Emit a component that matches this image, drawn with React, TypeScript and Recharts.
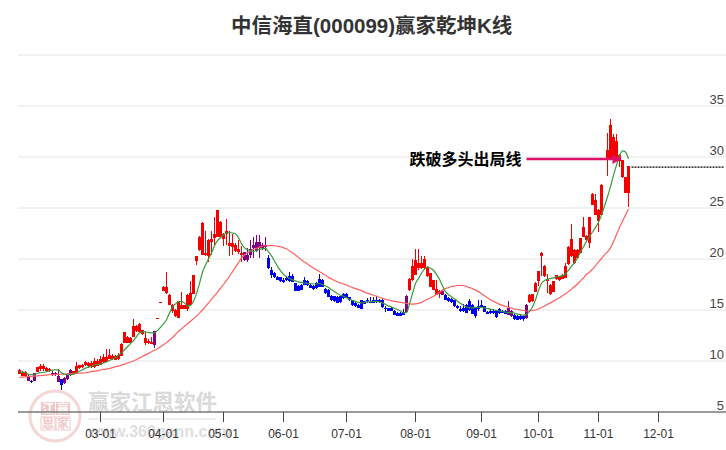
import React from "react";
import { ComposedChart, Bar, Line, XAxis, YAxis, CartesianGrid } from "recharts";

// Candle rows: [body top, body bottom, high, low]
const candlesA = [
  [9.1,8.75,9.2,8.7],[8.9,8.55,9.0,8.5],[8.9,8.5,9.0,8.45],[8.55,8.0,8.7,8.0],[8.05,7.95,8.15,7.8],[8.8,8.0,8.85,8.0],[9.4,8.95,9.45,8.95],[9.55,9.2,9.7,9.0],[9.5,9.2,9.7,9.0],[9.3,9.0,9.4,8.95],
  [9.2,9.0,9.3,8.95],[8.8,8.65,9.0,8.55],[8.8,8.65,8.9,8.55],[8.55,7.9,9.2,7.9],[8.2,7.6,8.25,7.2],[8.35,7.8,8.4,7.75],[8.65,8.25,8.8,8.15],[9.1,8.65,9.2,8.5],[9.0,8.7,9.05,8.6],[9.55,8.8,9.9,8.75],
  [9.6,9.3,9.65,9.25],[9.6,9.4,9.7,9.3],[9.95,9.6,10.0,9.5],[9.85,9.55,9.9,9.3],[9.8,9.4,10.0,9.3],[10.0,9.4,10.3,9.3],[10.0,9.55,10.2,9.5],
];
const candlesB = [
  [10.15,9.65,10.5,9.6],[10.4,9.9,10.7,9.85],[10.4,9.95,11.15,9.9],[10.55,10.2,11.15,10.15],[10.5,10.2,10.7,10.1],[10.5,10.1,10.6,10.05],[10.55,10.15,10.8,10.1],[11.7,10.5,11.75,10.45],[12.8,11.8,12.85,11.75],[12.4,11.8,12.45,11.75],
  [12.3,11.8,12.35,11.75],[13.4,12.4,14.1,12.35],[13.4,12.9,13.5,12.85],[13.65,12.8,13.75,12.75],[13.0,12.6,13.05,12.55],[12.3,11.8,12.8,11.6],[12.0,11.75,12.2,11.7],[11.9,11.7,12.4,11.65],[12.9,11.6,12.95,11.3],[14.25,14.15,14.25,14.15],[15.75,15.65,15.75,15.65],
];
const candlesC = [
  [17.3,16.9,17.35,16.85],[17.3,16.65,18.7,16.6],[16.5,15.5,16.55,15.45],[15.5,14.95,15.55,14.7],[15.0,14.4,15.05,14.35],[15.85,14.2,15.9,14.2],[15.5,15.1,16.8,15.05],[15.45,15.1,15.5,15.05],[16.5,15.1,16.55,14.95],[16.65,15.5,17.8,15.45],
  [18.4,16.6,18.45,16.55],[20.3,19.8,20.3,19.4],[22.2,20.85,22.25,20.8],[23.5,20.4,23.6,20.35],[20.6,20.35,22.7,20.3],[21.9,20.25,21.95,19.7],[22.0,21.7,22.7,20.4],[22.5,22.1,24.1,21.4],[24.8,22.2,24.85,22.15],[23.65,22.2,23.7,22.15],
];
const candlesD = [
  [22.5,22.0,22.55,21.25],[22.7,22.5,23.95,21.4],[21.55,21.25,22.7,20.3],[21.55,21.2,22.5,20.4],[21.4,20.75,21.6,20.7],[21.0,20.7,21.9,20.5],[20.6,20.4,21.25,19.75],[20.65,19.9,20.7,19.85],[20.35,19.9,21.05,19.75],[21.0,20.4,21.9,20.1],
  [21.4,21.1,22.2,20.1],[21.7,20.75,22.4,20.7],[21.7,21.1,22.4,20.1],[21.4,21.1,21.6,20.9],[21.4,21.15,22.2,20.75],[20.1,19.1,20.4,19.05],[18.95,18.45,19.2,18.1],[18.6,18.2,18.7,18.1],[18.2,17.95,18.3,17.9],[18.2,17.8,18.25,17.75],
];
const candlesE = [
  [17.95,17.7,18.1,17.6],[18.1,17.95,18.2,17.85],[18.35,17.8,18.7,17.75],[18.35,17.75,18.5,17.7],[17.6,16.9,17.65,16.85],[17.4,16.9,17.45,16.85],[17.5,17.0,17.55,16.95],[17.95,17.5,18.2,17.45],[17.8,17.5,17.9,17.4],[17.5,17.2,17.6,17.15],
  [17.4,17.05,17.45,17.0],[17.65,17.15,17.7,17.1],[18.05,17.3,18.55,17.25],[17.95,17.3,18.0,17.25],[17.1,16.65,17.2,16.6],[17.0,16.3,17.05,16.25],[16.4,15.95,16.5,15.9],[16.35,15.85,16.4,15.75],[16.25,15.7,16.35,15.65],[16.35,15.75,16.4,15.7],[16.6,16.2,16.65,16.1],
];
const candlesF = [
  [16.6,16.2,16.7,16.15],[16.25,15.95,16.3,15.9],[15.95,15.45,16.0,15.4],[15.7,15.35,15.75,15.3],[15.5,15.2,15.6,15.15],[15.95,15.1,16.0,15.05],[15.85,15.6,15.9,15.55],[15.95,15.85,16.2,15.7],[15.8,15.75,16.3,15.65],[16.0,15.7,16.3,15.65],
  [16.0,15.75,16.4,15.7],[16.0,15.75,16.1,15.7],[16.0,15.25,16.05,15.2],[15.2,15.15,15.4,14.85],[15.15,14.95,15.2,14.9],[15.2,14.95,15.25,14.9],[14.95,14.55,15.0,14.5],[14.75,14.45,14.8,14.4],[14.75,14.45,14.8,14.4],[14.85,14.55,15.05,14.5],
  [16.4,14.8,16.45,14.75],[18.07,16.93,18.1,16.9],[19.35,17.9,20.0,17.85],
];
const candlesG = [
  [19.93,18.46,20.97,18.4],[19.6,19.1,20.97,18.95],[19.6,19.1,20.3,19.05],[20.0,19.1,20.3,19.05],[19.1,18.3,19.3,18.25],[18.6,17.3,18.65,17.25],[17.9,17.0,17.95,16.95],[17.05,16.5,17.9,16.45],[16.9,16.6,16.95,16.2],[16.9,16.5,17.0,16.45],
  [16.5,16.0,16.6,15.95],[16.2,15.85,16.3,15.8],[16.05,15.75,16.15,15.7],[15.95,15.35,16.0,15.3],[15.4,15.15,15.45,15.1],[15.05,14.95,15.4,14.85],[15.2,14.9,15.6,14.85],[15.5,14.75,15.55,14.7],[15.85,15.0,16.05,14.95],[15.5,14.65,15.55,14.6],
  [15.2,14.45,15.25,14.2],[15.35,15.1,16.0,14.9],
];
const candlesH = [
  [15.5,15.2,15.95,15.15],[15.35,14.85,15.4,14.8],[14.85,14.65,14.9,14.6],[14.95,14.7,15.05,14.65],[14.95,14.7,15.1,14.65],[14.95,14.3,15.0,14.25],[15.05,14.7,15.2,14.65],[14.95,14.75,15.0,14.7],[14.95,14.65,15.0,14.6],[15.2,14.55,15.9,14.5],
  [14.95,14.4,15.0,14.35],[14.55,14.1,14.6,14.05],[14.45,14.05,14.5,14.0],[14.45,14.1,14.5,14.05],[14.4,14.1,14.45,13.95],[15.5,14.2,15.55,14.15],[16.5,15.75,16.55,15.7],[16.57,15.85,16.6,15.8],[17.65,16.8,17.7,16.75],
];
const candlesI = [
  [18.8,17.8,18.85,17.4],[20.6,20.3,20.65,18.3],[19.35,18.3,19.4,18.25],[18.0,17.8,18.5,16.7],[17.5,16.6,17.55,16.5],[17.8,16.8,17.85,16.75],[18.4,18.0,18.45,17.9],[18.3,17.9,18.35,17.85],[18.45,18.05,18.5,18.0],[19.3,18.15,19.6,18.1],
  [21.2,19.5,21.25,19.4],[21.95,20.25,23.4,20.2],[20.9,19.6,20.95,19.55],[20.9,20.1,20.95,20.0],[22.06,20.6,22.1,20.55],[23.1,22.2,24.1,22.15],[22.3,21.85,22.35,21.8],[24.1,21.6,24.15,21.1],[26.4,25.3,26.45,25.25],
];
const candlesJ = [
  [25.8,24.35,26.4,24.3],[24.85,23.7,24.9,22.6],[27.3,24.35,27.35,24.3],null,[30.7,29.9,32.4,28.1],[33.1,29.8,33.7,29.7],[32.0,29.7,32.3,29.6],[31.6,29.7,32.3,29.6],[30.2,29.6,30.3,29.0],[29.7,28.0,29.75,27.9],[28.0,26.5,28.05,26.45],[29.1,26.5,29.15,25.05],
];

const blueRanges = [[4,4],[14,14],[83,128],[142,162],[165,168]];
const purpleRanges = [[3,3],[5,5],[11,13],[15,17],[45,45],[75,82],[129,129],[141,141],[163,164],[169,169]];

const greenLine = [
  8.9,8.9,8.85,8.7,8.65,8.7,8.8,8.85,8.9,8.95,
  9.05,9.1,9.15,9.1,8.85,8.7,8.65,8.65,8.7,8.85,
  9.0,9.15,9.3,9.4,9.5,9.6,9.65,9.7,9.8,9.9,
  10.05,10.2,10.35,10.55,10.8,11.1,11.4,11.7,12.0,12.4,
  12.75,12.85,12.85,12.8,12.75,12.75,13.0,13.3,13.65,14.05,
  14.7,15.3,15.6,15.8,15.85,15.7,15.4,15.45,15.85,16.6,
  17.6,18.7,19.4,20.0,20.6,21.3,21.8,22.1,22.35,22.55,
  22.6,22.55,22.45,22.1,21.5,21.1,20.9,20.8,20.75,20.85,
  20.95,21.0,21.05,20.7,20.3,19.8,19.3,18.85,18.5,18.25,
  18.1,17.95,17.85,17.75,17.7,17.65,17.6,17.6,17.55,17.55,
  17.6,17.5,17.35,17.2,17.0,16.8,16.6,16.45,16.35,16.2,
  16.05,15.95,15.85,15.75,15.7,15.75,15.8,15.8,15.85,15.85,
  15.8,15.7,15.55,15.4,15.3,15.15,15.05,14.9,14.7,14.75,
  15.6,16.6,17.6,18.1,18.6,19.0,19.2,19.1,18.9,18.5,
  18.0,17.4,16.8,16.5,16.3,16.1,15.85,15.65,15.45,15.3,
  15.2,15.2,15.25,15.25,15.25,15.2,15.15,15.1,15.0,14.95,
  14.9,14.85,14.8,14.75,14.75,14.7,14.6,14.55,14.5,14.55,
  14.9,15.3,16.0,16.9,17.6,17.9,18.0,18.1,18.15,18.25,
  18.3,18.35,18.55,18.9,19.3,19.65,20.1,20.7,21.2,21.75,
  22.2,22.65,23.1,23.6,24.3,25.2,26.1,27.1,28.2,29.2,30.1,30.6,30.5,29.8,
];
const redLine = [
  8.4,8.42,8.45,8.47,8.5,8.52,8.55,8.57,8.6,8.62,
  8.65,8.66,8.68,8.7,8.7,8.72,8.73,8.75,8.76,8.78,
  8.8,8.82,8.85,8.9,8.95,9.0,9.05,9.12,9.17,9.2,
  9.28,9.35,9.45,9.5,9.6,9.7,9.8,9.9,10.0,10.15,
  10.3,10.45,10.6,10.75,10.9,11.05,11.2,11.4,11.6,11.8,
  12.05,12.3,12.6,12.9,13.15,13.4,13.65,13.9,14.15,14.4,
  14.7,15.0,15.35,15.7,16.05,16.4,16.75,17.15,17.5,17.9,
  18.3,18.75,19.2,19.65,20.1,20.4,20.6,20.8,20.95,21.05,
  21.15,21.25,21.3,21.32,21.33,21.3,21.25,21.2,21.1,21.0,
  20.8,20.6,20.4,20.15,19.9,19.7,19.5,19.3,19.1,18.95,
  18.75,18.6,18.4,18.2,18.05,17.9,17.75,17.65,17.55,17.45,
  17.3,17.2,17.1,17.0,16.9,16.75,16.65,16.55,16.45,16.35,
  16.25,16.15,16.05,16.0,15.9,15.85,15.8,15.75,15.7,15.65,
  15.6,15.58,15.6,15.65,15.75,15.9,16.05,16.2,16.35,16.55,
  16.75,16.95,17.1,17.2,17.3,17.35,17.4,17.4,17.4,17.3,
  17.2,17.1,16.95,16.8,16.6,16.4,16.2,16.0,15.85,15.7,
  15.55,15.45,15.35,15.25,15.2,15.1,15.05,15.0,14.95,14.9,
  14.9,14.95,15.0,15.1,15.25,15.4,15.55,15.7,15.85,16.05,
  16.2,16.4,16.6,16.8,17.05,17.3,17.55,17.85,18.15,18.5,
  18.7,19.0,19.35,19.7,20.05,20.4,20.7,21.1,21.7,22.4,23.1,23.7,24.3,24.9,
];

const yTicks = [5, 10, 15, 20, 25, 30, 35, 40];
const yLabels = [5, 10, 15, 20, 25, 30, 35];
const tickDays = [27, 48, 68, 88, 109, 132, 154, 173, 193, 213];
const tickLabels = ["03-01", "04-01", "05-01", "06-01", "07-01", "08-01", "09-01", "10-01", "11-01", "12-01"];

const TOTAL_DAYS = 236;
const breakValue = 29.8;
const breakStart = 169;
const breakEnd = 200;
const lastClose = 29.0;
const lastStart = 204;
const breakLabel = "跌破多头出局线";
const titleText = "中信海直(000099)赢家乾坤K线";

const candles = [
  ...candlesA, ...candlesB, ...candlesC, ...candlesD, ...candlesE,
  ...candlesF, ...candlesG, ...candlesH, ...candlesI, ...candlesJ,
];
const inRanges = (i: number, ranges: number[][]) => ranges.some(([a, b]) => i >= a && i <= b);

const data = Array.from({ length: TOTAL_DAYS }, (_, i) => {
  const c = candles[i] as number[] | null | undefined;
  return {
    idx: i,
    top: c ? c[0] : null,
    bottom: c ? c[1] : null,
    high: c ? c[2] : null,
    low: c ? c[3] : null,
    range: c ? [c[3], c[2]] : null,
    color: inRanges(i, purpleRanges) ? "#800080" : inRanges(i, blueRanges) ? "#0000f0" : "#f50000",
    green: i < greenLine.length ? greenLine[i] : null,
    red: i < redLine.length ? redLine[i] : null,
    brk: i >= breakStart && i <= breakEnd ? breakValue : null,
    last: i >= lastStart ? lastClose : null,
  };
});

const FONT = '"Liberation Sans", Arial, sans-serif';
const CJK = '"Liberation Sans", "Noto Sans CJK SC", sans-serif';

function CandleShape(props: any) {
  const { x, y, width, height, payload } = props;
  if (payload.high == null || !(height >= 0)) return <g />;
  const span = payload.high - payload.low;
  const ppu = span > 0 ? height / span : 10.2;
  const center = x + width / 2;
  const left = Math.round(center - 1.5);
  const bodyY = y + (payload.high - payload.top) * ppu;
  const bodyH = Math.max(1, (payload.top - payload.bottom) * ppu);
  return (
    <g shapeRendering="crispEdges">
      <rect x={left + 1} y={y} width={1} height={Math.max(1, height)} fill={payload.color} />
      <rect x={left} y={bodyY} width={3} height={bodyH} fill={payload.color} />
    </g>
  );
}

function renderYTick(props: any) {
  const { y, payload, index } = props;
  if (!yLabels.includes(payload.value)) return <g key={"y" + index} />;
  return (
    <text key={"y" + index} x={724} y={y - 2} textAnchor="end" fontSize={13} fontFamily={FONT} fill="#444">
      {payload.value}
    </text>
  );
}

function BreakDot(props: any) {
  const { cx, cy, payload } = props;
  const key = "brk" + payload.idx;
  if (cy == null) return <g key={key} />;
  if (payload.idx === breakStart) {
    return (
      <text key={key} x={cx - 5} y={cy + 5.5} textAnchor="end" fontSize={16} fontWeight="bold" fontFamily={CJK} fill="#000">
        {breakLabel}
      </text>
    );
  }
  if (payload.idx === breakEnd) {
    return <path key={key} d={`M${cx - 7},${cy - 5}L${cx + 2},${cy}L${cx - 7},${cy + 5}Z`} fill="#e0106a" />;
  }
  return <g key={key} />;
}

function Watermark() {
  return (
    <svg width={726} height={450} style={{ position: "absolute", left: 0, top: 0 }}>
      <circle cx={55} cy={416} r={25} fill="none" stroke="#f4d6d6" strokeWidth={3} />
      <rect x={41} y={402} width={14} height={13} fill="#f0c8c8" />
      <rect x={56} y={402} width={14} height={13} fill="#f0c8c8" />
      <rect x={41} y={417} width={14} height={13} fill="none" stroke="#f0c8c8" />
      <rect x={56} y={417} width={14} height={13} fill="none" stroke="#f0c8c8" />
      <g fontFamily='"Noto Sans CJK SC"' fontSize={12} fontWeight="bold" textAnchor="middle">
        <text x={48} y={413} fill="#fff">江</text>
        <text x={63} y={413} fill="#fff">赢</text>
        <text x={48} y={428} fill="#f0c8c8">恩</text>
        <text x={63} y={428} fill="#f0c8c8">家</text>
      </g>
      <text x={88} y={410} fontFamily='"Noto Sans CJK SC"' fontWeight="bold" fontSize={21.5} fill="#d9d9d9">赢家江恩软件</text>
      <rect x={88} y={418} width={128} height={2} fill="#eeeeee" />
      <text x={88} y={437} fontFamily={FONT} fontWeight="bold" fontSize={16} fill="#dedede">www.360gann.com</text>
    </svg>
  );
}

export default function App() {
  return (
    <div style={{ position: "absolute", left: 0, top: 0, width: 726, height: 450, background: "#fff", overflow: "hidden" }}>
      <Watermark />
      <div
        style={{
          position: "absolute", left: 231, top: 12, width: 300, whiteSpace: "nowrap",
          fontFamily: CJK, fontWeight: "bold", fontSize: 20.5, lineHeight: "28px", color: "#333",
        }}
      >
        {titleText}
      </div>
      <div style={{ position: "absolute", left: 0, top: 0 }}>
        <ComposedChart width={726} height={450} data={data} margin={{ top: 55, right: -1, bottom: 8, left: 18 }} barCategoryGap={0} barGap={0}>
          <CartesianGrid horizontal vertical={false} stroke="#e4e4e4" />
          <XAxis
            dataKey="idx"
            type="category"
            ticks={tickDays}
            interval={0}
            height={30}
            tickSize={10}
            tickMargin={7}
            tickFormatter={(v: number) => tickLabels[tickDays.indexOf(v)]}
            tick={{ fontSize: 12, fill: "#333", fontFamily: FONT }}
            axisLine={{ stroke: "#444" }}
            tickLine={{ stroke: "#444" }}
          />
          <YAxis
            orientation="right"
            type="number"
            domain={[5, 40]}
            ticks={yTicks}
            width={1}
            interval={0}
            axisLine={false}
            tickLine={false}
            tick={renderYTick}
          />
          <Bar dataKey="range" barSize={3} shape={<CandleShape />} isAnimationActive={false} />
          <Line dataKey="red" type="monotone" stroke="#ff5f5f" strokeWidth={1.2} dot={false} isAnimationActive={false} />
          <Line dataKey="green" type="monotone" stroke="#3a9a3a" strokeWidth={1.2} dot={false} isAnimationActive={false} />
          <Line dataKey="last" type="linear" stroke="#000" strokeWidth={1.2} strokeDasharray="2 1" dot={false} isAnimationActive={false} />
          <Line dataKey="brk" type="linear" stroke="#e0106a" strokeWidth={2.5} dot={<BreakDot />} isAnimationActive={false} />
        </ComposedChart>
      </div>
    </div>
  );
}
